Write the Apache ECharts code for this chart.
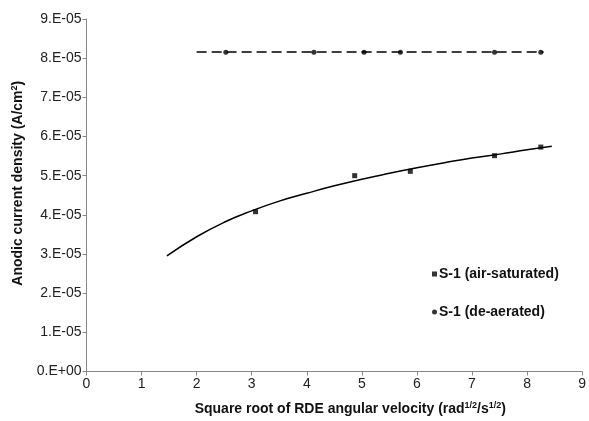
<!DOCTYPE html>
<html>
<head>
<meta charset="utf-8">
<script src="https://cdn.jsdelivr.net/npm/echarts@6/dist/echarts.min.js"></script>
<style>html,body{margin:0;padding:0;background:#fff}#c{width:589px;height:421px}</style>
</head>
<body>
<div id="c"></div>
<script>
// Data (current density in A/cm^2)
var airX = [3.07, 4.87, 5.88, 7.41, 8.25];
var airY = [4.08e-5, 5.00e-5, 5.11e-5, 5.51e-5, 5.73e-5];
var deaX = [2.53, 4.13, 5.04, 5.70, 7.41, 8.25];
var deaY = [8.15e-5, 8.15e-5, 8.15e-5, 8.15e-5, 8.15e-5, 8.15e-5];
// trend curve readings for air-saturated
var fitX = [1.46, 2, 2.5, 3, 3.5, 4, 4.5, 5, 5.5, 6, 6.5, 7, 7.5, 8, 8.45];
var fitY = [2.95e-5, 3.44e-5, 3.81e-5, 4.10e-5, 4.35e-5, 4.55e-5, 4.74e-5, 4.91e-5, 5.06e-5, 5.20e-5, 5.33e-5, 5.45e-5, 5.55e-5, 5.66e-5, 5.75e-5];
// trend line readings for de-aerated
var fit2X = [2.0, 8.3];
var fit2Y = [8.16e-5, 8.16e-5];
var xTicks = [0, 1, 2, 3, 4, 5, 6, 7, 8, 9];
var yTickLabels = ['0.E+00','1.E-05','2.E-05','3.E-05','4.E-05','5.E-05','6.E-05','7.E-05','8.E-05','9.E-05'];
var seriesNames = ['S-1 (air-saturated)', 'S-1 (de-aerated)'];

function pairs(xs, ys){ return xs.map(function(x,i){return [x, ys[i]];}); }

var font = 'Liberation Sans, Arial, sans-serif';
var chart = echarts.init(document.getElementById('c'));
chart.setOption({
  animation: false,
  backgroundColor: '#fff',
  grid: {left: 86.5, right: 2, top: 19, bottom: 45, containLabel: false},
  xAxis: {
    type: 'value', min: 0, max: 9, interval: 1,
    axisLine: {lineStyle: {color: '#888', width: 1}},
    axisTick: {show: true, length: 4, lineStyle: {color: '#888'}},
    splitLine: {show: false},
    axisLabel: {color: '#222', fontFamily: font, fontSize: 14, margin: 6,
      formatter: function(v){ return xTicks[Math.round(v)] !== undefined ? String(xTicks[Math.round(v)]) : ''; }},
    name: 'Square root of RDE angular velocity (rad{s|1/2}/s{s|1/2})',
    nameLocation: 'middle', nameGap: 30,
    nameTextStyle: {color: '#111', fontFamily: font, fontSize: 14, fontWeight: 'bold', padding: [0,0,0,32],
      rich: {s: {fontSize: 9, fontWeight: 'bold', fontFamily: font, color: '#111', verticalAlign: 'top', padding: [0,0,6,0]}}}
  },
  yAxis: {
    type: 'value', min: 0, max: 9e-5, interval: 1e-5,
    axisLine: {show: true, lineStyle: {color: '#888', width: 1}},
    axisTick: {show: true, length: 4, lineStyle: {color: '#888'}},
    splitLine: {show: false},
    axisLabel: {color: '#222', fontFamily: font, fontSize: 14, margin: 5,
      formatter: function(v){ var i = Math.round(v/1e-5); return yTickLabels[i] || ''; }},
    name: 'Anodic current density (A/cm{s|2})',
    nameLocation: 'middle', nameGap: 61, nameRotate: 90,
    nameTextStyle: {color: '#111', fontFamily: font, fontSize: 14, fontWeight: 'bold', padding: [0,0,0,24],
      rich: {s: {fontSize: 9, fontWeight: 'bold', fontFamily: font, color: '#111', verticalAlign: 'top', padding: [0,0,6,0]}}}
  },
  legend: {
    orient: 'vertical', left: 427, top: 262, itemGap: 24,
    itemWidth: 5, itemHeight: 5,
    textStyle: {color: '#111', fontFamily: font, fontSize: 14, fontWeight: 'bold', padding: [0,0,0,-3]},
    data: [{name: seriesNames[0], icon: 'rect'}, {name: seriesNames[1], icon: 'circle'}]
  },
  series: [
    {type: 'line', data: pairs(fitX, fitY), smooth: true, showSymbol: false, symbol: 'none',
     lineStyle: {color: '#000', width: 1.5}, silent: true, z: 1},
    {type: 'line', data: pairs(fit2X, fit2Y), showSymbol: false, symbol: 'none',
     lineStyle: {color: '#000', width: 1.5, type: [10, 5]}, silent: true, z: 1},
    {name: seriesNames[0], type: 'scatter', data: pairs(airX, airY), symbol: 'rect', symbolSize: 5,
     itemStyle: {color: '#000'}, z: 3},
    {name: seriesNames[1], type: 'scatter', data: pairs(deaX, deaY), symbol: 'circle', symbolSize: 5,
     itemStyle: {color: '#000'}, z: 3}
  ]
});
</script>
</body>
</html>
